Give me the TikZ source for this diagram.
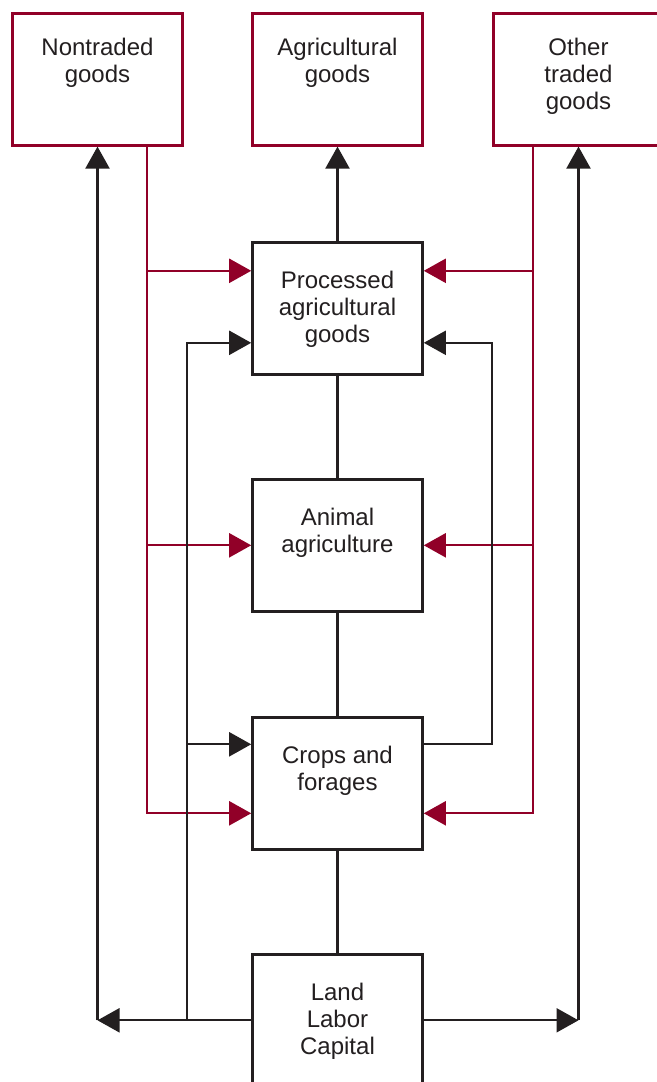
\documentclass[tikz,border=0pt]{standalone}
\usepackage{fontspec}
\setmainfont{Liberation Sans}
\usetikzlibrary{arrows.meta}

\definecolor{wine}{RGB}{145,0,40}
\definecolor{ink}{RGB}{35,31,32}

\tikzset{
  box/.style={draw=ink, line width=1.3pt, fill=white, inner sep=0pt, anchor=north, text=ink},
  redbox/.style={box, draw=wine},
  link/.style={draw=ink, line width=1.1pt},
  redlink/.style={draw=wine, line width=1.1pt},
  arr/.style={-{Triangle[length=11pt,width=12pt]}},
}
% text sits near the top of each box; #1 is the space above the first baseline
\newcommand{\boxtext}[2][23pt]{\parbox[c][66pt][t]{85pt}{\centering\fontsize{12}{13.5}\selectfont\rule{0pt}{#1}#2\par}}

\begin{document}
\begin{tikzpicture}[x=0.5pt,y=-0.5pt]
\useasboundingbox (0,0) rectangle (657,1082);
\fill[white] (0,0) rectangle (657,1082);

% boxes
\node[redbox] (nontr) at (97.5,12)  {\boxtext[21pt]{Nontraded\\goods}};
\node[redbox] (agri)  at (337.5,12) {\boxtext[21pt]{Agricultural\\goods}};
\node[redbox] (other) at (578.5,12) {\boxtext[21pt]{Other\\traded\\goods}};

\node[box] (proc)  at (337.5,241) {\boxtext{Processed\\agricultural\\goods}};
\node[box] (anim)  at (337.5,478) {\boxtext{Animal\\agriculture}};
\node[box] (crops) at (337.5,716) {\boxtext{Crops and\\forages}};
\node[box] (land)  at (337.5,953) {\boxtext{Land\\Labor\\Capital}};

% red inputs from the traded / nontraded goods
\coordinate (rl) at ([xshift=24.75pt]nontr.south);
\coordinate (rr) at ([xshift=-22.75pt]other.south);
\coordinate (pl) at ([yshift=18.75pt]proc.west);
\coordinate (pr) at ([yshift=18.75pt]proc.east);
\coordinate (cl) at ([yshift=-15pt]crops.west);
\coordinate (cr) at ([yshift=-15pt]crops.east);

\draw[redlink,arr] (rl) |- (cl);
\draw[redlink,arr] (rl |- pl) -- (pl);
\draw[redlink,arr] (rl |- anim.west) -- (anim.west);
\draw[redlink,arr] (rr) |- (cr);
\draw[redlink,arr] (rr |- pr) -- (pr);
\draw[redlink,arr] (rr |- anim.east) -- (anim.east);

% centre column
\draw[link,arr] (proc.north) -- (agri.south);
\draw[link] (proc.south) -- (anim.north);
\draw[link] (anim.south) -- (crops.north);
\draw[link] (crops.south) -- (land.north);

% land, labor, capital out to the sides
\coordinate (ll) at (land.west -| nontr.south);
\coordinate (lr) at (land.east -| other.south);
\draw[link,arr] (land.west) -- (ll);
\draw[link,arr] (ll) -- (nontr.south);
\draw[link,arr] (land.east) -- (lr);
\draw[link,arr] (lr) -- (other.south);

% land feeds processing and crops
\coordinate (fl) at (187,1019.5);
\coordinate (pb) at ([yshift=-17.25pt]proc.west);
\coordinate (ct) at ([yshift=19.5pt]crops.west);
\draw[link,arr] (fl) |- (pb);
\draw[link,arr] (fl |- ct) -- (ct);

% crops back to processing
\draw[link,arr] ([yshift=19.5pt]crops.east) -- ++(68,0) |- ([yshift=-17.25pt]proc.east);
\end{tikzpicture}
\end{document}
